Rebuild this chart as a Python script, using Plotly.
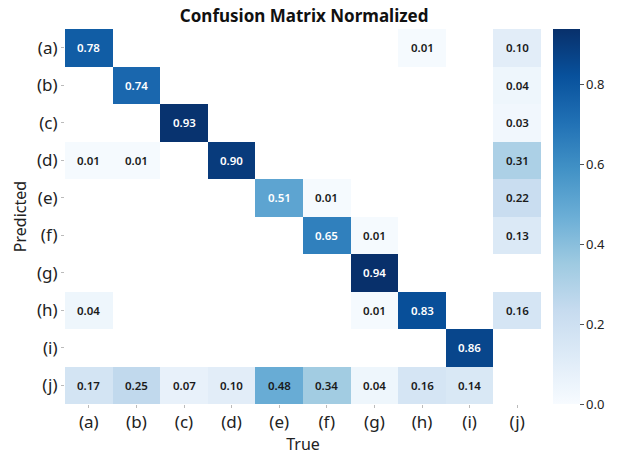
import numpy as np
import plotly.graph_objects as go

labels = ["(a)", "(b)", "(c)", "(d)", "(e)", "(f)", "(g)", "(h)", "(i)", "(j)"]

# rows = predicted class, columns = true class; None = empty cell
row_a = [0.78, None, None, None, None, None, None, 0.01, None, 0.10]
row_b = [None, 0.74, None, None, None, None, None, None, None, 0.04]
row_c = [None, None, 0.93, None, None, None, None, None, None, 0.03]
row_d = [0.01, 0.01, None, 0.90, None, None, None, None, None, 0.31]
row_e = [None, None, None, None, 0.51, 0.01, None, None, None, 0.22]
row_f = [None, None, None, None, None, 0.65, 0.01, None, None, 0.13]
row_g = [None, None, None, None, None, None, 0.94, None, None, None]
row_h = [0.04, None, None, None, None, None, 0.01, 0.83, None, 0.16]
row_i = [None, None, None, None, None, None, None, None, 0.86, None]
row_j = [0.17, 0.25, 0.07, 0.10, 0.48, 0.34, 0.04, 0.16, 0.14, None]

matrix = [row_a, row_b, row_c, row_d, row_e, row_f, row_g, row_h, row_i, row_j]

blues = ["#f7fbff", "#deebf7", "#c6dbef", "#9ecae1", "#6baed6",
         "#4292c6", "#2171b5", "#08519c", "#08306b"]
colorscale = [[i / (len(blues) - 1), c] for i, c in enumerate(blues)]

font_family = "Noto Sans, Open Sans, sans-serif"

fig = go.Figure(go.Heatmap(
    z=matrix, x=labels, y=labels,
    colorscale=colorscale, zmin=0, zmax=0.94,
    hoverongaps=False,
    colorbar=dict(
        thickness=27, len=1, lenmode="fraction", y=0.5, yanchor="middle",
        x=1.025, xanchor="left", xpad=0, ypad=0,
        outlinewidth=0, tickvals=[0, 0.2, 0.4, 0.6, 0.8],
        ticktext=["0.0", "0.2", "0.4", "0.6", "0.8"],
        ticks="outside", ticklen=4, tickcolor="#555",
        tickfont=dict(size=13, family=font_family, color="#222"),
    ),
))

annotations = []
for r, row in enumerate(matrix):
    for c, v in enumerate(row):
        if v is None:
            continue
        annotations.append(dict(
            x=labels[c], y=labels[r], text=f"{v:.2f}", showarrow=False,
            font=dict(size=11.5, family=font_family, weight=600,
                      color="white" if v >= 0.5 else "#1a1a1a"),
        ))

fig.update_layout(
    width=617, height=459,
    margin=dict(l=65, r=74, t=29, b=50),
    paper_bgcolor="white", plot_bgcolor="white",
    title=dict(text="<b>Confusion Matrix Normalized</b>", x=0.493, xanchor="center",
               y=0.965, yanchor="middle",
               font=dict(size=17, family=font_family, color="#111")),
    annotations=annotations,
    xaxis=dict(title=dict(text="True", font=dict(size=16, family=font_family, color="#222"),
                          standoff=2),
               tickfont=dict(size=17, family=font_family, color="#222"),
               ticks="outside", ticklen=3, tickcolor="#bbb", showgrid=False,
               zeroline=False, showline=False),
    yaxis=dict(title=dict(text="Predicted", font=dict(size=16, family=font_family, color="#222"),
                          standoff=6),
               tickfont=dict(size=17, family=font_family, color="#222"),
               autorange="reversed",
               ticks="outside", ticklen=3, tickcolor="#bbb", showgrid=False,
               zeroline=False, showline=False),
)

fig.write_html("out.html")
